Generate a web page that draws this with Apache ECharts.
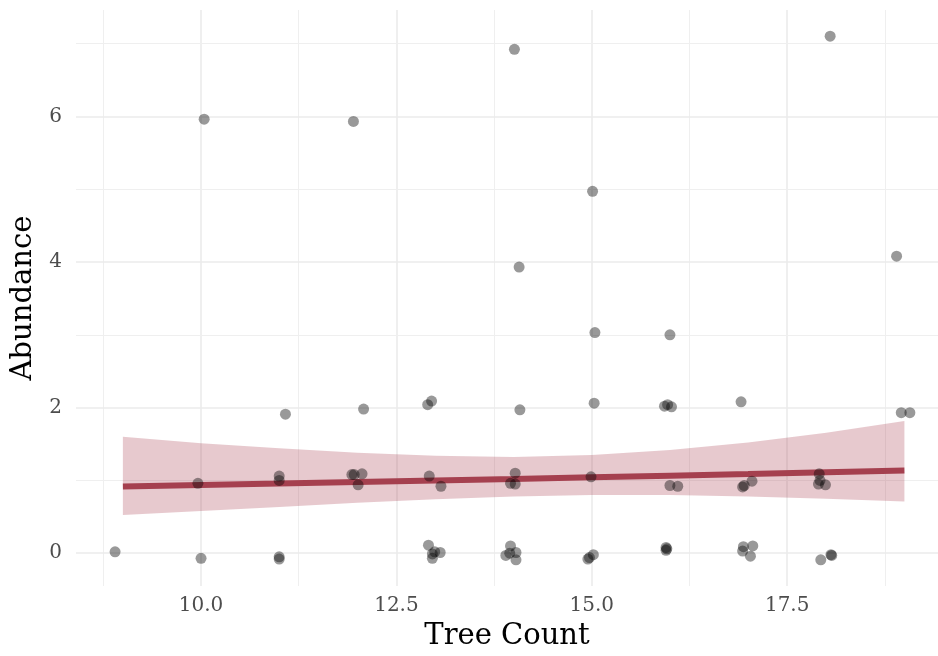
<!DOCTYPE html>
<html><head><meta charset="utf-8">
<script src="https://cdn.jsdelivr.net/npm/echarts@6/dist/echarts.min.js"></script>
<style>html,body{margin:0;padding:0;background:#fff}#c{width:938px;height:656px}</style>
</head><body><div id="c"></div>
<script>
// jittered observations
const pointX = [8.90,
  9.96, 10.04, 10.00,
  11.08, 11.00, 11.00, 11.00, 11.00,
  12.08, 11.93, 11.96, 12.06, 12.01, 11.95,
  12.90, 12.95, 12.92, 13.07, 12.91, 12.96, 12.96, 13.06, 12.99,
  14.01, 14.07, 14.08, 14.02, 13.96, 14.02, 13.96, 13.90, 13.95, 14.03, 14.03,
  15.01, 15.04, 15.03, 14.99, 14.95, 15.02, 14.97,
  16.00, 15.93, 15.97, 16.02, 16.00, 16.10, 15.95, 15.95, 15.96,
  16.91, 16.93, 16.95, 17.05, 16.94, 17.06, 16.93, 17.03,
  18.05, 17.91, 17.92, 17.90, 17.99, 17.93, 18.06, 18.07,
  18.90, 18.96, 19.07];
const pointY = [0.02,
  0.96, 5.96, -0.07,
  1.91, 1.06, 1.00, -0.05, -0.08,
  1.98, 1.08, 1.08, 1.09, 0.94, 5.93,
  2.04, 2.09, 1.06, 0.92, 0.11, -0.01, -0.07, 0.01, 0.02,
  6.92, 3.93, 1.97, 1.10, 0.96, 0.95, 0.10, -0.03, 0.00, 0.01, -0.09,
  4.97, 3.03, 2.06, 1.05, -0.08, -0.02, -0.06,
  3.00, 2.02, 2.04, 2.01, 0.93, 0.92, 0.08, 0.04, 0.06,
  2.08, 0.91, 0.93, 0.99, 0.09, 0.10, 0.03, -0.04,
  7.10, 1.09, 1.00, 0.95, 0.94, -0.09, -0.02, -0.03,
  4.08, 1.93, 1.93];

// fitted trend and confidence band
const fitX = [9, 10, 11, 12, 13, 14, 15, 16, 17, 18, 19];
const fitY = [0.917, 0.937, 0.957, 0.978, 0.999, 1.020, 1.043, 1.065, 1.088, 1.112, 1.136];
const fitLower = [0.524, 0.580, 0.636, 0.692, 0.742, 0.780, 0.800, 0.798, 0.778, 0.747, 0.710];
const fitUpper = [1.600, 1.512, 1.440, 1.380, 1.338, 1.322, 1.350, 1.418, 1.520, 1.655, 1.815];

// ticks
const xTicks = [10, 12.5, 15, 17.5];
const xTickLabels = ['10.0', '12.5', '15.0', '17.5'];
const xMinorTicks = [8.75, 11.25, 13.75, 16.25, 18.75];
const yTicks = [0, 2, 4, 6];
const yTickLabels = ['0', '2', '4', '6'];
const yMinorTicks = [1, 3, 5, 7];

const FONT = 'DejaVu Serif';
const GRID_COLOR = '#ebebeb';

function labelFor(ticks, labels) {
  return function (v) {
    for (let i = 0; i < ticks.length; i++) if (Math.abs(ticks[i] - v) < 1e-6) return labels[i];
    return '';
  };
}

const gridLines = [];
xTicks.forEach(v => gridLines.push({xAxis: v, lineStyle: {width: 1.6, color: GRID_COLOR}}));
xMinorTicks.forEach(v => gridLines.push({xAxis: v, lineStyle: {width: 1.1, color: '#efefef'}}));
yTicks.forEach(v => gridLines.push({yAxis: v, lineStyle: {width: 1.6, color: GRID_COLOR}}));
yMinorTicks.forEach(v => gridLines.push({yAxis: v, lineStyle: {width: 1.1, color: '#efefef'}}));

const chart = echarts.init(document.getElementById('c'), null, {renderer: 'canvas'});
chart.setOption({
  animation: false,
  backgroundColor: '#ffffff',
  grid: {left: 76, right: 0, top: 10, bottom: 70, containLabel: false},
  xAxis: {
    type: 'value', min: 8.40, max: 19.43,
    axisLine: {show: false}, axisTick: {show: false}, splitLine: {show: false},
    axisLabel: {customValues: xTicks, formatter: labelFor(xTicks, xTickLabels),
      fontFamily: FONT, fontSize: 20, color: '#4d4d4d', margin: 10},
    name: 'Tree Count', nameLocation: 'middle', nameGap: 36,
    nameTextStyle: {fontFamily: FONT, fontSize: 29, color: '#000'}
  },
  yAxis: {
    type: 'value', min: -0.45, max: 7.46,
    axisLine: {show: false}, axisTick: {show: false}, splitLine: {show: false},
    axisLabel: {customValues: yTicks, formatter: labelFor(yTicks, yTickLabels),
      fontFamily: FONT, fontSize: 20, color: '#4d4d4d', margin: 14},
    name: 'Abundance', nameLocation: 'middle', nameGap: 30, nameRotate: 90,
    nameTextStyle: {fontFamily: FONT, fontSize: 29, color: '#000'}
  },
  series: [
    {
      type: 'scatter', data: [], silent: true, z: 0,
      markLine: {silent: true, z: 0, symbol: ['none', 'none'], label: {show: false},
        animation: false, lineStyle: {type: 'solid'}, data: gridLines}
    },
    {
      type: 'custom', z: 2, silent: true,
      data: fitX.map((x, i) => [x, fitLower[i], fitUpper[i]]),
      encode: {x: 0, y: [1, 2]},
      renderItem: function (params, api) {
        if (params.dataIndex !== 0) return null;
        const pts = [];
        for (let i = 0; i < fitX.length; i++) pts.push(api.coord([fitX[i], fitUpper[i]]));
        for (let i = fitX.length - 1; i >= 0; i--) pts.push(api.coord([fitX[i], fitLower[i]]));
        return {type: 'polygon', shape: {points: pts}, style: {fill: 'rgba(168,62,78,0.28)'}};
      }
    },
    {
      type: 'line', z: 3, silent: true, showSymbol: false, symbol: 'none',
      data: fitX.map((x, i) => [x, fitY[i]]),
      lineStyle: {color: '#a5404f', width: 6}
    },
    {
      type: 'scatter', z: 4, silent: true, symbolSize: 11,
      data: pointX.map((x, i) => [x, pointY[i]]),
      itemStyle: {color: 'rgba(0,0,0,0.5)', borderWidth: 0}
    }
  ]
});
</script></body></html>
